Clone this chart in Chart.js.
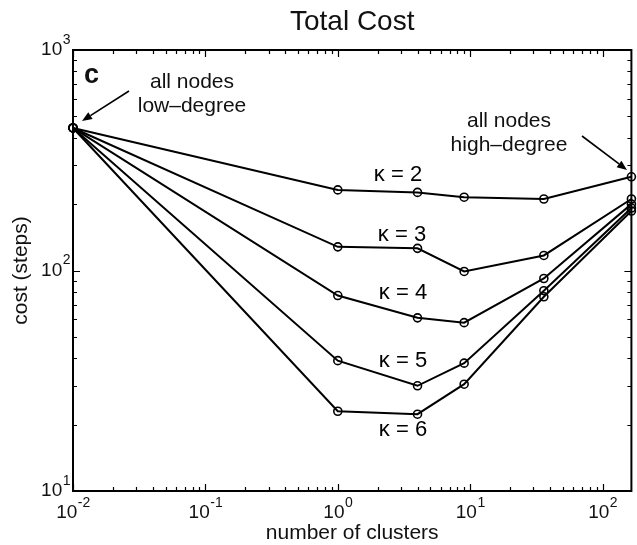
<!DOCTYPE html>
<html>
<head>
<meta charset="utf-8">
<script src="https://cdn.jsdelivr.net/npm/chart.js@4.4.0/dist/chart.umd.min.js"></script>
<style>
  html, body { margin: 0; padding: 0; background: #fff; }
  #wrap { width: 637px; height: 545px; }
</style>
</head>
<body>
<div id="wrap"><canvas id="myChart" width="637" height="545"></canvas></div>
<script>
// data
const clusters = [0.01, 1, 4, 9, 36, 165];
const costK2 = [443, 232, 226, 215, 211, 266];
const costK3 = [443, 128, 126, 99, 117, 211];
const costK4 = [443, 77, 61, 58, 92, 200];
const costK5 = [443, 39, 30, 38, 81, 192];
const costK6 = [443, 23, 22.3, 30.5, 76, 186];
const kappaLabels = ['\u03ba = 2', '\u03ba = 3', '\u03ba = 4', '\u03ba = 5', '\u03ba = 6'];
const xDecades = [-2, -1, 0, 1, 2];
const yDecades = [1, 2, 3];

const FONT = '"Liberation Sans", Arial, Helvetica, sans-serif';
const INK = '#111';

function toPoints(values) {
    return values.map((v, i) => ({ x: clusters[i], y: v }));
}

function makeSet(values) {
    return {
        data: toPoints(values),
        borderColor: '#000',
        borderWidth: 2,
        pointRadius: 4,
        pointBorderWidth: 1.6,
        pointBorderColor: '#000',
        pointBackgroundColor: 'rgba(0,0,0,0)',
        fill: false,
        tension: 0,
        clip: false
    };
}

function arrow(ctx, x1, y1, x2, y2) {
    const a = Math.atan2(y2 - y1, x2 - x1);
    const hl = 10, hw = 4;
    ctx.beginPath();
    ctx.moveTo(x1, y1);
    ctx.lineTo(x2 - Math.cos(a) * hl, y2 - Math.sin(a) * hl);
    ctx.lineWidth = 1.6;
    ctx.strokeStyle = '#000';
    ctx.stroke();
    ctx.beginPath();
    ctx.moveTo(x2, y2);
    ctx.lineTo(x2 - Math.cos(a) * hl - Math.sin(a) * hw, y2 - Math.sin(a) * hl + Math.cos(a) * hw);
    ctx.lineTo(x2 - Math.cos(a) * hl + Math.sin(a) * hw, y2 - Math.sin(a) * hl - Math.cos(a) * hw);
    ctx.closePath();
    ctx.fillStyle = '#000';
    ctx.fill();
}

// power-of-ten label, base + superscript
function powLabel(ctx, exp, x, y, align) {
    ctx.font = '19px ' + FONT;
    const base = '10';
    const bw = ctx.measureText(base).width;
    ctx.font = '14px ' + FONT;
    const sup = String(exp);
    const sw = ctx.measureText(sup).width;
    let left;
    if (align === 'right') left = x - bw - sw;
    else left = x - (bw + sw) / 2;
    ctx.textAlign = 'left';
    ctx.textBaseline = 'middle';
    ctx.fillStyle = INK;
    ctx.font = '19px ' + FONT;
    ctx.fillText(base, left, y);
    ctx.font = '14px ' + FONT;
    ctx.fillText(sup, left + bw + 0.5, y - 10);
}

const matlabAxes = {
    id: 'matlabAxes',
    afterDraw(chart) {
        const ctx = chart.ctx;
        const xs = chart.scales.x, ys = chart.scales.y;
        const a = chart.chartArea;
        ctx.save();

        // box
        ctx.strokeStyle = '#000';
        ctx.lineWidth = 2;
        ctx.strokeRect(a.left, a.top, a.right - a.left, a.bottom - a.top);

        // tick marks, inside, on all four sides
        ctx.lineWidth = 1.2;
        ctx.beginPath();
        xDecades.forEach(d => {
            for (let m = 1; m <= 9; m++) {
                const v = m * Math.pow(10, d);
                if (v < xs.min * 0.999 || v > xs.max * 1.001) continue;
                const px = Math.round(xs.getPixelForValue(v)) + 0.5;
                const len = m === 1 ? 7 : 4;
                ctx.moveTo(px, a.bottom); ctx.lineTo(px, a.bottom - len);
                ctx.moveTo(px, a.top); ctx.lineTo(px, a.top + len);
            }
        });
        yDecades.forEach(d => {
            for (let m = 1; m <= 9; m++) {
                const v = m * Math.pow(10, d);
                if (v < ys.min * 0.999 || v > ys.max * 1.001) continue;
                const py = Math.round(ys.getPixelForValue(v)) + 0.5;
                const len = m === 1 ? 7 : 4;
                ctx.moveTo(a.left, py); ctx.lineTo(a.left + len, py);
                ctx.moveTo(a.right, py); ctx.lineTo(a.right - len, py);
            }
        });
        ctx.stroke();

        // tick labels
        xDecades.forEach(d => {
            const px = xs.getPixelForValue(Math.pow(10, d));
            powLabel(ctx, d, px, a.bottom + 22, 'center');
        });
        yDecades.forEach(d => {
            const py = ys.getPixelForValue(Math.pow(10, d));
            powLabel(ctx, d, a.left - 3, py, 'right');
        });

        // titles
        ctx.fillStyle = INK;
        ctx.textAlign = 'center';
        ctx.textBaseline = 'middle';
        ctx.font = '28px ' + FONT;
        ctx.fillText('Total Cost', (a.left + a.right) / 2, 22);
        ctx.font = '21px ' + FONT;
        ctx.fillText('number of clusters', (a.left + a.right) / 2, 533);
        ctx.save();
        ctx.translate(21, (a.top + a.bottom) / 2);
        ctx.rotate(-Math.PI / 2);
        ctx.fillText('cost (steps)', 0, 0);
        ctx.restore();

        // panel letter
        ctx.font = 'bold 27px ' + FONT;
        ctx.textAlign = 'left';
        ctx.fillText('c', 84, 76);

        // annotations
        ctx.textAlign = 'center';
        ctx.font = '21px ' + FONT;
        ctx.fillText('all nodes', 192, 82);
        ctx.fillText('low\u2013degree', 192, 106);
        ctx.fillText('all nodes', 509, 121);
        ctx.fillText('high\u2013degree', 509, 145);
        arrow(ctx, 129, 91, 82, 121);
        arrow(ctx, 582, 136, 627, 170);

        const kPos = [[398, 175], [402, 235], [403, 293], [403, 361], [403, 430]];
        ctx.font = '22px ' + FONT;
        kappaLabels.forEach((t, i) => ctx.fillText(t, kPos[i][0], kPos[i][1]));

        ctx.restore();
    }
};

const ctx = document.getElementById('myChart').getContext('2d');
const chart = new Chart(ctx, {
    type: 'line',
    data: {
        datasets: [makeSet(costK2), makeSet(costK3), makeSet(costK4), makeSet(costK5), makeSet(costK6)]
    },
    options: {
        responsive: false,
        animation: false,
        layout: { padding: { top: 50, right: 4, left: 0, bottom: 0 } },
        plugins: {
            legend: { display: false },
            tooltip: { enabled: false },
            title: { display: false }
        },
        scales: {
            x: {
                type: 'logarithmic',
                min: 0.01,
                max: 165,
                grid: { display: false },
                border: { display: false },
                ticks: { display: false },
                afterFit(scale) { scale.height = 54; }
            },
            y: {
                type: 'logarithmic',
                min: 10,
                max: 1000,
                grid: { display: false },
                border: { display: false },
                ticks: { display: false },
                afterFit(scale) { scale.width = 73; }
            }
        }
    },
    plugins: [matlabAxes]
});
</script>
</body>
</html>
